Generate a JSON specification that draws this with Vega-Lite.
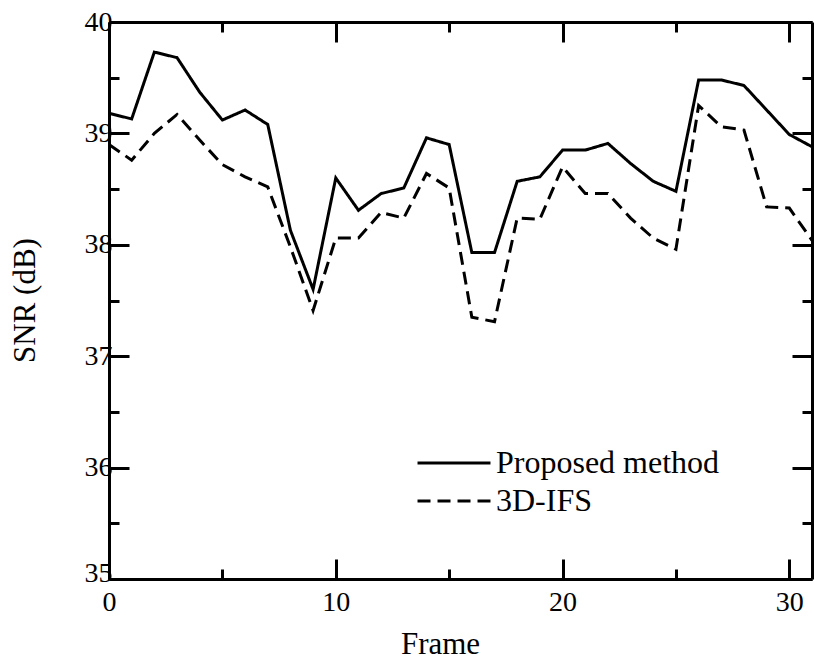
{
  "$schema": "https://vega.github.io/schema/vega-lite/v6.json",
  "width": 703,
  "height": 557,
  "autosize": {"type": "none"},
  "padding": {"left": 109, "top": 22, "right": 2, "bottom": 84},
  "background": "white",
  "config": {
    "view": {"stroke": null},
    "axis": {
      "grid": false,
      "labelFont": "Liberation Serif",
      "labelFontSize": 28,
      "labelColor": "black",
      "labelFlush": false,
      "labelOverlap": false,
      "titleFont": "Liberation Serif",
      "titleFontSize": 31,
      "titleFontWeight": "normal",
      "titleColor": "black",
      "domainColor": "black",
      "domainWidth": 3,
      "tickColor": "black",
      "tickWidth": 3
    }
  },
  "data": {
    "values": [
      {"frame": 0, "snr": 39.18, "method": "Proposed method"},
      {"frame": 1, "snr": 39.13, "method": "Proposed method"},
      {"frame": 2, "snr": 39.73, "method": "Proposed method"},
      {"frame": 3, "snr": 39.68, "method": "Proposed method"},
      {"frame": 4, "snr": 39.37, "method": "Proposed method"},
      {"frame": 5, "snr": 39.12, "method": "Proposed method"},
      {"frame": 6, "snr": 39.21, "method": "Proposed method"},
      {"frame": 7, "snr": 39.08, "method": "Proposed method"},
      {"frame": 8, "snr": 38.13, "method": "Proposed method"},
      {"frame": 9, "snr": 37.6, "method": "Proposed method"},
      {"frame": 10, "snr": 38.6, "method": "Proposed method"},
      {"frame": 11, "snr": 38.31, "method": "Proposed method"},
      {"frame": 12, "snr": 38.46, "method": "Proposed method"},
      {"frame": 13, "snr": 38.51, "method": "Proposed method"},
      {"frame": 14, "snr": 38.96, "method": "Proposed method"},
      {"frame": 15, "snr": 38.9, "method": "Proposed method"},
      {"frame": 16, "snr": 37.93, "method": "Proposed method"},
      {"frame": 17, "snr": 37.93, "method": "Proposed method"},
      {"frame": 18, "snr": 38.57, "method": "Proposed method"},
      {"frame": 19, "snr": 38.61, "method": "Proposed method"},
      {"frame": 20, "snr": 38.85, "method": "Proposed method"},
      {"frame": 21, "snr": 38.85, "method": "Proposed method"},
      {"frame": 22, "snr": 38.91, "method": "Proposed method"},
      {"frame": 23, "snr": 38.73, "method": "Proposed method"},
      {"frame": 24, "snr": 38.57, "method": "Proposed method"},
      {"frame": 25, "snr": 38.48, "method": "Proposed method"},
      {"frame": 26, "snr": 39.48, "method": "Proposed method"},
      {"frame": 27, "snr": 39.48, "method": "Proposed method"},
      {"frame": 28, "snr": 39.43, "method": "Proposed method"},
      {"frame": 29, "snr": 39.21, "method": "Proposed method"},
      {"frame": 30, "snr": 38.99, "method": "Proposed method"},
      {"frame": 31, "snr": 38.88, "method": "Proposed method"},
      {"frame": 0, "snr": 38.9, "method": "3D-IFS"},
      {"frame": 1, "snr": 38.76, "method": "3D-IFS"},
      {"frame": 2, "snr": 39.0, "method": "3D-IFS"},
      {"frame": 3, "snr": 39.17, "method": "3D-IFS"},
      {"frame": 4, "snr": 38.94, "method": "3D-IFS"},
      {"frame": 5, "snr": 38.72, "method": "3D-IFS"},
      {"frame": 6, "snr": 38.61, "method": "3D-IFS"},
      {"frame": 7, "snr": 38.52, "method": "3D-IFS"},
      {"frame": 8, "snr": 37.98, "method": "3D-IFS"},
      {"frame": 9, "snr": 37.41, "method": "3D-IFS"},
      {"frame": 10, "snr": 38.06, "method": "3D-IFS"},
      {"frame": 11, "snr": 38.06, "method": "3D-IFS"},
      {"frame": 12, "snr": 38.29, "method": "3D-IFS"},
      {"frame": 13, "snr": 38.24, "method": "3D-IFS"},
      {"frame": 14, "snr": 38.64, "method": "3D-IFS"},
      {"frame": 15, "snr": 38.51, "method": "3D-IFS"},
      {"frame": 16, "snr": 37.35, "method": "3D-IFS"},
      {"frame": 17, "snr": 37.31, "method": "3D-IFS"},
      {"frame": 18, "snr": 38.24, "method": "3D-IFS"},
      {"frame": 19, "snr": 38.23, "method": "3D-IFS"},
      {"frame": 20, "snr": 38.7, "method": "3D-IFS"},
      {"frame": 21, "snr": 38.46, "method": "3D-IFS"},
      {"frame": 22, "snr": 38.46, "method": "3D-IFS"},
      {"frame": 23, "snr": 38.24, "method": "3D-IFS"},
      {"frame": 24, "snr": 38.06, "method": "3D-IFS"},
      {"frame": 25, "snr": 37.96, "method": "3D-IFS"},
      {"frame": 26, "snr": 39.25, "method": "3D-IFS"},
      {"frame": 27, "snr": 39.06, "method": "3D-IFS"},
      {"frame": 28, "snr": 39.03, "method": "3D-IFS"},
      {"frame": 29, "snr": 38.34, "method": "3D-IFS"},
      {"frame": 30, "snr": 38.33, "method": "3D-IFS"},
      {"frame": 31, "snr": 38.04, "method": "3D-IFS"}
    ]
  },
  "resolve": {"axis": {"x": "independent", "y": "independent"}},
  "layer": [
    {
      "mark": {"type": "line", "color": "black", "strokeWidth": 3},
      "encoding": {
        "x": {
          "field": "frame", "type": "quantitative",
          "scale": {"domain": [0, 31], "nice": false, "zero": false},
          "axis": {"orient": "bottom", "title": "Frame", "values": [0, 10, 20, 30], "tickSize": -20, "labelPadding": 29, "titleX": 331, "titleY": 74, "titleBaseline": "alphabetic", "titleAlign": "center", "titleAnchor": null}
        },
        "y": {
          "field": "snr", "type": "quantitative",
          "scale": {"domain": [35, 40], "nice": false, "zero": false},
          "axis": {"orient": "left", "title": "SNR (dB)", "values": [35, 36, 37, 38, 39, 40], "tickSize": -20, "labelPadding": 17, "labelOffset": {"condition": {"test": "datum.value == 35", "value": -6}, "value": 0}, "titleX": -84, "titleY": 278, "titleBaseline": "middle", "titleAlign": "center", "titleAngle": -90, "titleAnchor": null}
        },
        "strokeDash": {
          "field": "method", "type": "nominal",
          "scale": {"domain": ["Proposed method", "3D-IFS"], "range": [[1, 0], [13, 7]]},
          "legend": {
            "orient": "none", "legendX": 329, "legendY": 425, "direction": "vertical",
            "title": null, "padding": 0,
            "symbolType": "M-5,0H5", "symbolSize": 213, "symbolStrokeWidth": 3, "symbolStrokeColor": "black",
            "labelFont": "Liberation Serif", "labelFontSize": 32, "labelColor": "black", "labelOffset": 26,
            "rowPadding": 6, "labelLimit": 400
          }
        }
      }
    },
    {
      "mark": {"type": "point", "opacity": 0},
      "encoding": {
        "x": {"field": "frame", "type": "quantitative", "axis": {"orient": "top", "title": null, "labels": false, "values": [0, 10, 20, 30], "tickSize": -20}},
        "y": {"field": "snr", "type": "quantitative", "axis": {"orient": "right", "title": null, "labels": false, "values": [35, 36, 37, 38, 39, 40], "tickSize": -20}}
      }
    },
    {
      "mark": {"type": "point", "opacity": 0},
      "encoding": {
        "x": {"field": "frame", "type": "quantitative", "axis": {"orient": "bottom", "title": null, "labels": false, "domain": false, "values": [5, 15, 25], "tickSize": -10}},
        "y": {"field": "snr", "type": "quantitative", "axis": {"orient": "left", "title": null, "labels": false, "domain": false, "values": [35.5, 36.5, 37.5, 38.5, 39.5], "tickSize": -10}}
      }
    },
    {
      "mark": {"type": "point", "opacity": 0},
      "encoding": {
        "x": {"field": "frame", "type": "quantitative", "axis": {"orient": "top", "title": null, "labels": false, "domain": false, "values": [5, 15, 25], "tickSize": -10}},
        "y": {"field": "snr", "type": "quantitative", "axis": {"orient": "right", "title": null, "labels": false, "domain": false, "values": [35.5, 36.5, 37.5, 38.5, 39.5], "tickSize": -10}}
      }
    }
  ]
}
